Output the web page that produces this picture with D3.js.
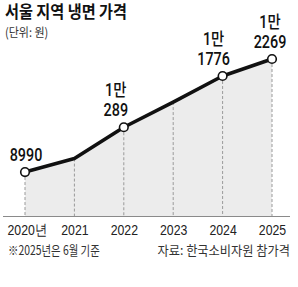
<!DOCTYPE html>
<html><head><meta charset="utf-8">
<script src="https://cdn.jsdelivr.net/npm/d3@7"></script>
<style>
html,body{margin:0;padding:0;background:#fff;}
svg{display:block;font-family:"Noto Sans CJK KR","Noto Sans",sans-serif;}
</style></head>
<body>
<svg id="c" width="298" height="287"></svg>
<script>
const years = ["2020", "2021", "2022", "2023", "2024", "2025"];
const tickLabels = ["2020년", "2021", "2022", "2023", "2024", "2025"];
const prices = [8990, 9380, 10289, 11020, 11776, 12269];
const labelTop = ["", "", "1만", "", "1만", "1만"];
const labelBottom = ["8990", "", "289", "", "1776", "2269"];
const title = "서울 지역 냉면 가격";
const unit = "(단위: 원)";
const note = "※2025년은 6월 기준";
const source = "자료: 한국소비자원 참가격";

const svg = d3.select("#c");
const x = d3.scalePoint().domain(years).range([25, 272]);
const y = d3.scaleLinear().domain([7700, 12269]).range([216.5, 59]);
const data = years.map((yr, i) => ({yr, v: prices[i], i}));
const sx = 0.82;

function txt(g, s, px, py, size, weight, anchor, color, scale) {
  return g.append("text")
    .attr("transform", `translate(${px},${py}) scale(${scale},1)`)
    .attr("text-anchor", anchor)
    .attr("font-size", size)
    .attr("font-weight", weight)
    .attr("fill", color)
    .text(s);
}

// area
svg.append("path")
  .datum(data)
  .attr("fill", "#ececec")
  .attr("d", d3.area().x(d => x(d.yr)).y0(y.range()[0]).y1(d => y(d.v)));

// dashed verticals
svg.selectAll("line.drop").data(data).join("line")
  .attr("class", "drop")
  .attr("x1", d => x(d.yr)).attr("x2", d => x(d.yr))
  .attr("y1", d => y(d.v)).attr("y2", y.range()[0])
  .attr("stroke", "#9a9a9a").attr("stroke-width", 1)
  .attr("stroke-dasharray", "3,2");

// axis
const axis = d3.axisBottom(x).tickSize(0).tickFormat((d, i) => tickLabels[i]);
const ag = svg.append("g").attr("transform", `translate(0,${y.range()[0]})`).call(axis);
ag.select(".domain").attr("d", "M3,0H290").attr("stroke", "#8a8a8a").attr("stroke-width", 1.2);
ag.selectAll(".tick text").remove();
ag.selectAll(".tick").each(function(d, i) {
  const t = d3.select(this);
  const isFirst = i === 0;
  txt(t, tickLabels[i], isFirst ? -18 : 0, 18, 15, 400, isFirst ? "start" : "middle", "#222", sx);
});

// line
svg.append("path")
  .datum(data)
  .attr("fill", "none")
  .attr("stroke", "#111")
  .attr("stroke-width", 3.6)
  .attr("stroke-linejoin", "round")
  .attr("d", d3.line().x(d => x(d.yr)).y(d => y(d.v)));

// markers
const marked = data.filter(d => labelBottom[d.i] !== "");
svg.selectAll("circle.pt").data(marked).join("circle")
  .attr("class", "pt")
  .attr("cx", d => x(d.yr)).attr("cy", d => y(d.v))
  .attr("r", 4.3)
  .attr("fill", "#fff").attr("stroke", "#111").attr("stroke-width", 1.6);

// value labels (one text element, two lines)
const dxs = {"2020": 1, "2022": -8, "2024": -9, "2025": -2};
marked.forEach(d => {
  const px = x(d.yr) + dxs[d.yr];
  const py = y(d.v) - 11;
  const t = svg.append("text")
    .attr("transform", `translate(${px},${py}) scale(${sx},1)`)
    .attr("text-anchor", "middle")
    .attr("font-family", "Roboto, 'Noto Sans CJK KR', sans-serif")
    .attr("font-size", 17.5)
    .attr("font-weight", 500)
    .attr("fill", "#111");
  if (labelTop[d.i]) {
    t.append("tspan").attr("x", 0).attr("y", -20).text(labelTop[d.i]);
  }
  t.append("tspan").attr("x", 0).attr("y", 0).text(labelBottom[d.i]);
});

// titles
txt(svg, title, 5, 18, 16.5, 700, "start", "#111", 0.92);
txt(svg, unit, 5, 37, 12.5, 400, "start", "#333", 0.88);
txt(svg, note, 8, 255, 13, 400, "start", "#333", 0.8);
txt(svg, source, 290, 255, 13, 400, "end", "#333", 0.94);
</script>
</body></html>
